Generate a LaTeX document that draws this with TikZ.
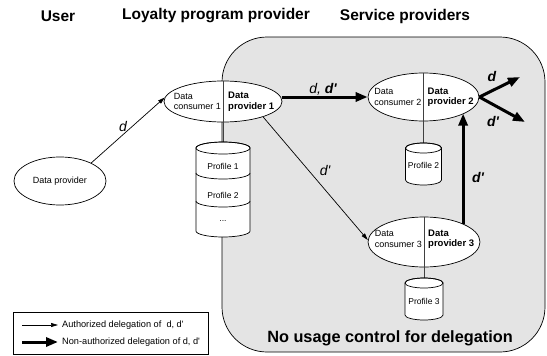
\documentclass[tikz,border=0pt]{standalone}
\usepackage{fontspec}
\setmainfont{Liberation Sans}
\usetikzlibrary{shapes.geometric,arrows.meta}
\definecolor{zone}{HTML}{E4E4E4}
\tikzstyle{ovale} = [ellipse, draw=black, fill=white, inner sep=0pt, line width=0.7pt]
\tikzstyle{fine} = [-{Triangle[length=7pt,width=4pt]}, line width=0.7pt]
\tikzstyle{grasse} = [-{Triangle[length=12pt,width=9pt]}, line width=3pt]
\tikzstyle{titre} = [font=\bfseries\fontsize{15.5}{18}\selectfont]
\tikzstyle{petit} = [font=\fontsize{9}{10.5}\selectfont, align=left, inner sep=1pt]
\tikzstyle{petitgras} = [font=\bfseries\fontsize{9.5}{10.5}\selectfont, align=left, inner sep=1pt]
\tikzstyle{profil} = [font=\fontsize{8.5}{10}\selectfont, inner sep=1pt]
\tikzstyle{legende} = [font=\fontsize{9.2}{11}\selectfont, inner sep=1pt]
\tikzstyle{etiq} = [font=\itshape\fontsize{14}{16}\selectfont]
\tikzstyle{etiqgras} = [font=\bfseries\itshape\fontsize{14}{16}\selectfont]

\begin{document}
\begin{tikzpicture}[x=1pt, y=-1pt]

        \useasboundingbox (0,0) rectangle (547,356);

        \node (T1) [titre] at (58,16) {User};
        \node (T2) [titre] at (216,16) {Loyalty program provider};
        \node (T3) [titre] at (405,16) {Service providers};

        \draw[fill=zone, line width=0.7pt, rounded corners=45pt] (222,37) rectangle (545,352);
        \node (NU) [font=\bfseries\fontsize{16.3}{19}\selectfont] at (390,338) {No usage control for delegation};

        \node (DP) [ovale, minimum width=92pt, minimum height=48pt, font=\fontsize{9}{10.5}\selectfont] at (60,181) {Data provider};
        \node (LP) [ovale, minimum width=118pt, minimum height=41pt] at (223,101.5) {};
        \node (SP2) [ovale, minimum width=111pt, minimum height=48pt] at (423.5,97) {};
        \node (SP3) [ovale, minimum width=112pt, minimum height=50pt] at (424,242) {};

        \coordinate (DB1) at (223,142);
        \coordinate (DB2) at (423.5,143);
        \coordinate (DB3) at (424,278);
        \draw[black!75, line width=0.7pt] (LP.north) -- (DB1);
        \draw[black!75, line width=0.7pt] (SP2.north) -- (DB2);
        \draw[black!75, line width=0.7pt] (SP3.north) -- (DB3);

        \node (LPc) [petit, anchor=east] at ([xshift=-1pt]LP.center) {Data\\consumer 1};
        \node (LPp) [petitgras, anchor=west] at ([xshift=4pt]LP.center) {Data\\provider 1};
        \node (SP2c) [petit, anchor=east] at ([xshift=-1pt]SP2.center) {Data\\consumer 2};
        \node (SP2p) [petitgras, anchor=west] at ([xshift=3pt]SP2.center) {Data\\provider 2};
        \node (SP3c) [petit, anchor=east] at ([xshift=-1pt,yshift=3pt]SP3.center) {Data\\consumer 3};
        \node (SP3p) [petitgras, anchor=west] at ([xshift=3pt,yshift=3pt]SP3.center) {Data\\provider 3};

        % profils
        \filldraw[fill=white, line width=0.7pt] (196,148) -- (196,231) arc[start angle=180, end angle=0, x radius=27, y radius=6] -- (250,148) arc[start angle=0, end angle=-180, x radius=27, y radius=6] -- cycle;
        \draw[line width=0.7pt] (223,148) ellipse [x radius=27, y radius=6];
        \draw[line width=0.7pt] (196,173) arc[start angle=180, end angle=0, x radius=27, y radius=6];
        \draw[line width=0.7pt] (196,201) arc[start angle=180, end angle=0, x radius=27, y radius=6];
        \node (P11) [profil] at (223,166) {Profile 1};
        \node (P12) [profil] at (223,195) {Profile 2};
        \node (P13) [profil] at (223,221) {...};

        \filldraw[fill=white, line width=0.7pt] (405.5,148) -- (405.5,180) arc[start angle=180, end angle=0, x radius=18, y radius=5] -- (441.5,148) arc[start angle=0, end angle=-180, x radius=18, y radius=5] -- cycle;
        \draw[line width=0.7pt] (423.5,148) ellipse [x radius=18, y radius=5];
        \node (P2) [profil] at (423.5,165) {Profile 2};

        \filldraw[fill=white, line width=0.7pt] (405,283) -- (405,315) arc[start angle=180, end angle=0, x radius=19, y radius=5] -- (443,283) arc[start angle=0, end angle=-180, x radius=19, y radius=5] -- cycle;
        \draw[line width=0.7pt] (424,283) ellipse [x radius=19, y radius=5];
        \node (P3) [profil] at (424,301) {Profile 3};

        % delegations
        \draw[fine] (DP.30) -- (LP.176);
        \node (d1) [etiq] at (123,126) {d};
        \draw[grasse] (LP.east |- SP2.west) -- (SP2.west);
        \node (d2) [etiq] at (323,89) {d, \textbf{d\textquotesingle}};
        \draw[fine] (LP.-21) -- (SP3.178);
        \node (d3) [etiq] at (325,170) {d\textquotesingle};
        \draw[grasse] (SP3.25) -- (SP3.25 |- SP2.338);
        \node (d4) [etiqgras] at (478,177) {d\textquotesingle};
        \coordinate (o1) at (520,77);
        \coordinate (o2) at (525,122);
        \draw[grasse] (SP2.east) -- (o1);
        \draw[grasse] (SP2.east) -- (o2);
        \node (d5) [etiqgras] at (492,76) {d};
        \node (d6) [etiqgras] at (493,121) {d\textquotesingle};

        % legende
        \draw[line width=0.7pt] (13,312) rectangle (208,354);
        \node (L1) [legende, anchor=west] at (61,325) {Authorized delegation of~ d, d\textquotesingle};
        \node (L2) [legende, anchor=west] at (61,342) {Non-authorized delegation of d, d\textquotesingle};
        \coordinate (la) at (22,325);
        \coordinate (lb) at (22,342);
        \draw[fine, shorten >=3pt] (la) -- (L1.west);
        \draw[grasse, shorten >=3pt] (lb) -- (L2.west);

\end{tikzpicture}
\end{document}
